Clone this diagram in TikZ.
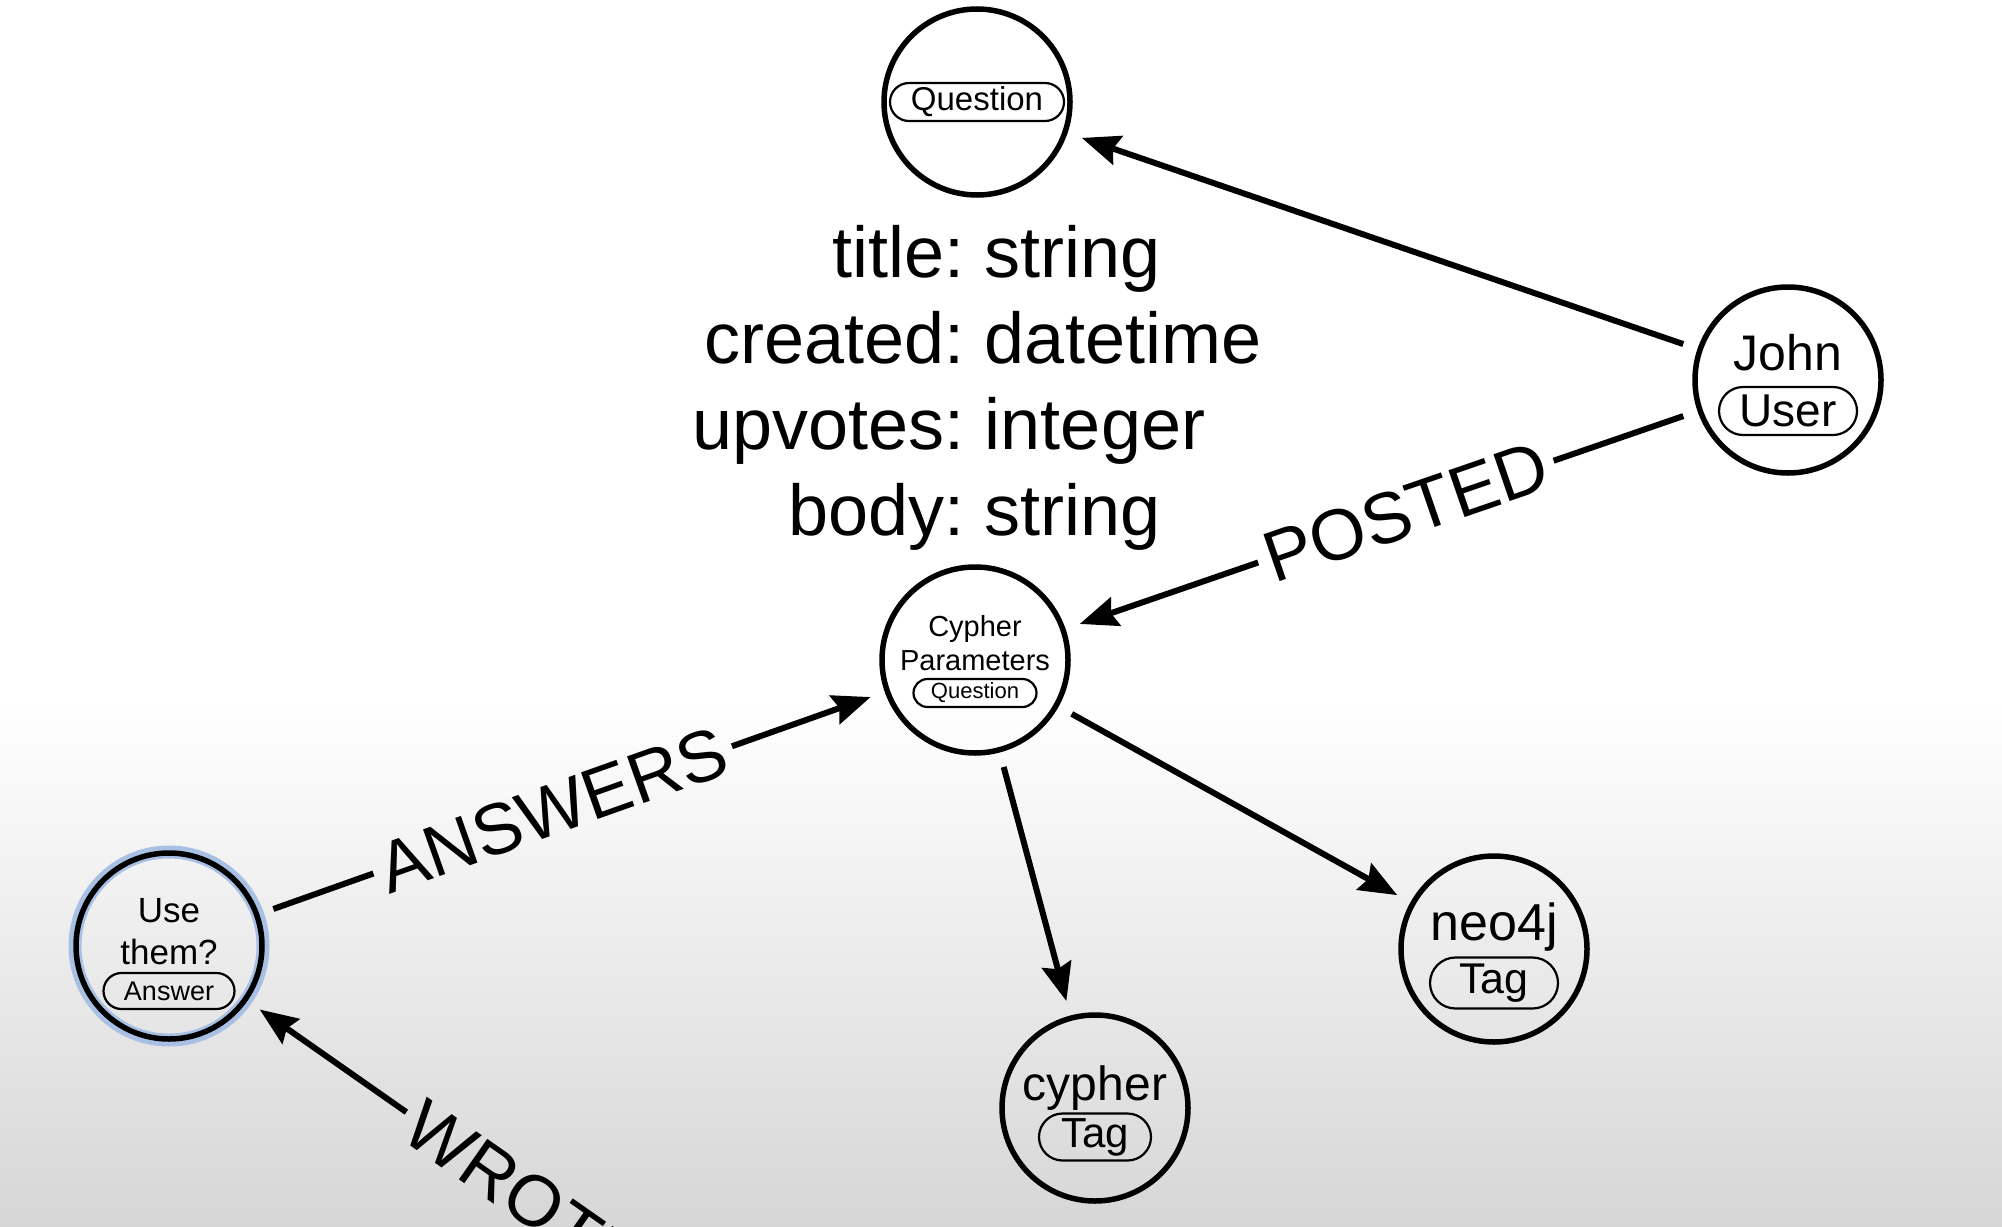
\documentclass[tikz,border=0pt]{standalone}
\usepackage{fontspec}
\setmainfont{Liberation Sans}
\usetikzlibrary{shapes.misc,arrows.meta,calc}
\newcommand\setfs[1]{\fontsize{#1}{#1}\selectfont}
\definecolor{glowblue}{RGB}{168,192,228}
\tikzset{
  circ/.style={circle,draw=black,line width=5.5pt,minimum size=186pt,inner sep=0pt},
  pill/.style={rounded rectangle,draw=black,line width=2.2pt,inner sep=0pt},
  captext/.style={inner sep=0pt,anchor=base},
  elab/.style={inner sep=8pt,font=\setfs{72}},
  plain/.style={line width=6pt},
  edge/.style={line width=6pt,-{Stealth[length=38pt,width=30pt,inset=5pt]},shorten >=15pt},
  prop/.style={inner sep=0pt,anchor=base,font=\setfs{72}}
}
\begin{document}
\begin{tikzpicture}[x=1pt,y=-1pt]
\useasboundingbox (0,0) rectangle (2002,1226);
\clip (0,0) rectangle (2002,1226);
\fill[white] (0,0) rectangle (2002,1226);
\shade[top color=white,bottom color=black!16] (0,700) rectangle (2002,1226);

% glow of the selected node
\draw[glowblue,line width=13pt] (169,946) circle[radius=94pt];

% nodes
\node[circ] (Q) at (977,102) {};
\node[pill,minimum width=174pt,minimum height=38pt,font=\setfs{33}] (QL) at (Q.center) {Question};

\node[circ] (C) at (975,660) {};
\node[captext,font=\setfs{29}] (C1) at ($(C.center)+(0,-24)$) {Cypher};
\node[captext,font=\setfs{29}] (C2) at ($(C.center)+(0,10)$) {Parameters};
\node[pill,minimum width=123pt,minimum height=28pt,font=\setfs{22}] (CL) at ($(C.center)+(0,33)$) {Question};

\node[circ] (J) at (1788,380) {};
\node[captext,font=\setfs{50}] (J1) at ($(J.center)+(0,-10)$) {John};
\node[pill,minimum width=138pt,minimum height=48pt,font=\setfs{46}] (JL) at ($(J.center)+(0,31)$) {User};

\node[circ] (A) at (169,946) {};
\node[captext,font=\setfs{35}] (A1) at ($(A.center)+(0,-24)$) {Use};
\node[captext,font=\setfs{35}] (A2) at ($(A.center)+(0,18)$) {them?};
\node[pill,minimum width=131pt,minimum height=36pt,font=\setfs{27}] (AL) at ($(A.center)+(0,45)$) {Answer};

\node[circ] (N) at (1494,949) {};
\node[captext,font=\setfs{52}] (N1) at ($(N.center)+(0,-9)$) {neo4j};
\node[pill,minimum width=128pt,minimum height=51pt,font=\setfs{43}] (NL) at ($(N.center)+(0,34)$) {Tag};

\node[circ] (T) at (1095,1108) {};
\node[captext,font=\setfs{48}] (T1) at ($(T.center)+(0,-8)$) {cypher};
\node[pill,minimum width=112pt,minimum height=47pt,font=\setfs{42}] (TL) at ($(T.center)+(0,29)$) {Tag};

% properties
\node[prop] (p1) at (965,277) {\makebox[0pt][r]{title:}\makebox[0pt][l]{ string}};
\node[prop] (p2) at (965,363) {\makebox[0pt][r]{created:}\makebox[0pt][l]{ datetime}};
\node[prop] (p3) at (965,449) {\makebox[0pt][r]{upvotes:}\makebox[0pt][l]{ integer}};
\node[prop] (p4) at (965,535) {\makebox[0pt][r]{body:}\makebox[0pt][l]{ string}};

% connectors
\draw[edge,shorten <=15pt] (J) -- (Q);

\path (C.center) -- node[elab,sloped,pos=0.53] (posted) {POSTED} (J.center);
\draw[plain,shorten <=15pt] (J) -- (posted);
\draw[edge] (posted) -- (C);

\path (A.center) -- node[elab,sloped,pos=0.476] (answers) {ANSWERS} (C.center);
\draw[plain,shorten <=15pt] (A) -- (answers);
\draw[edge] (answers) -- (C);

\draw[edge,shorten <=15pt] (C) -- (N);
\draw[edge,shorten <=15pt] (C) -- (T);

\coordinate (W) at (1152,1634);
\path (A.center) -- node[elab,sloped,pos=0.36] (wrote) {WROTE} (W);
\draw[plain] (W) -- (wrote);
\draw[edge] (wrote) -- (A);
\end{tikzpicture}
\end{document}
